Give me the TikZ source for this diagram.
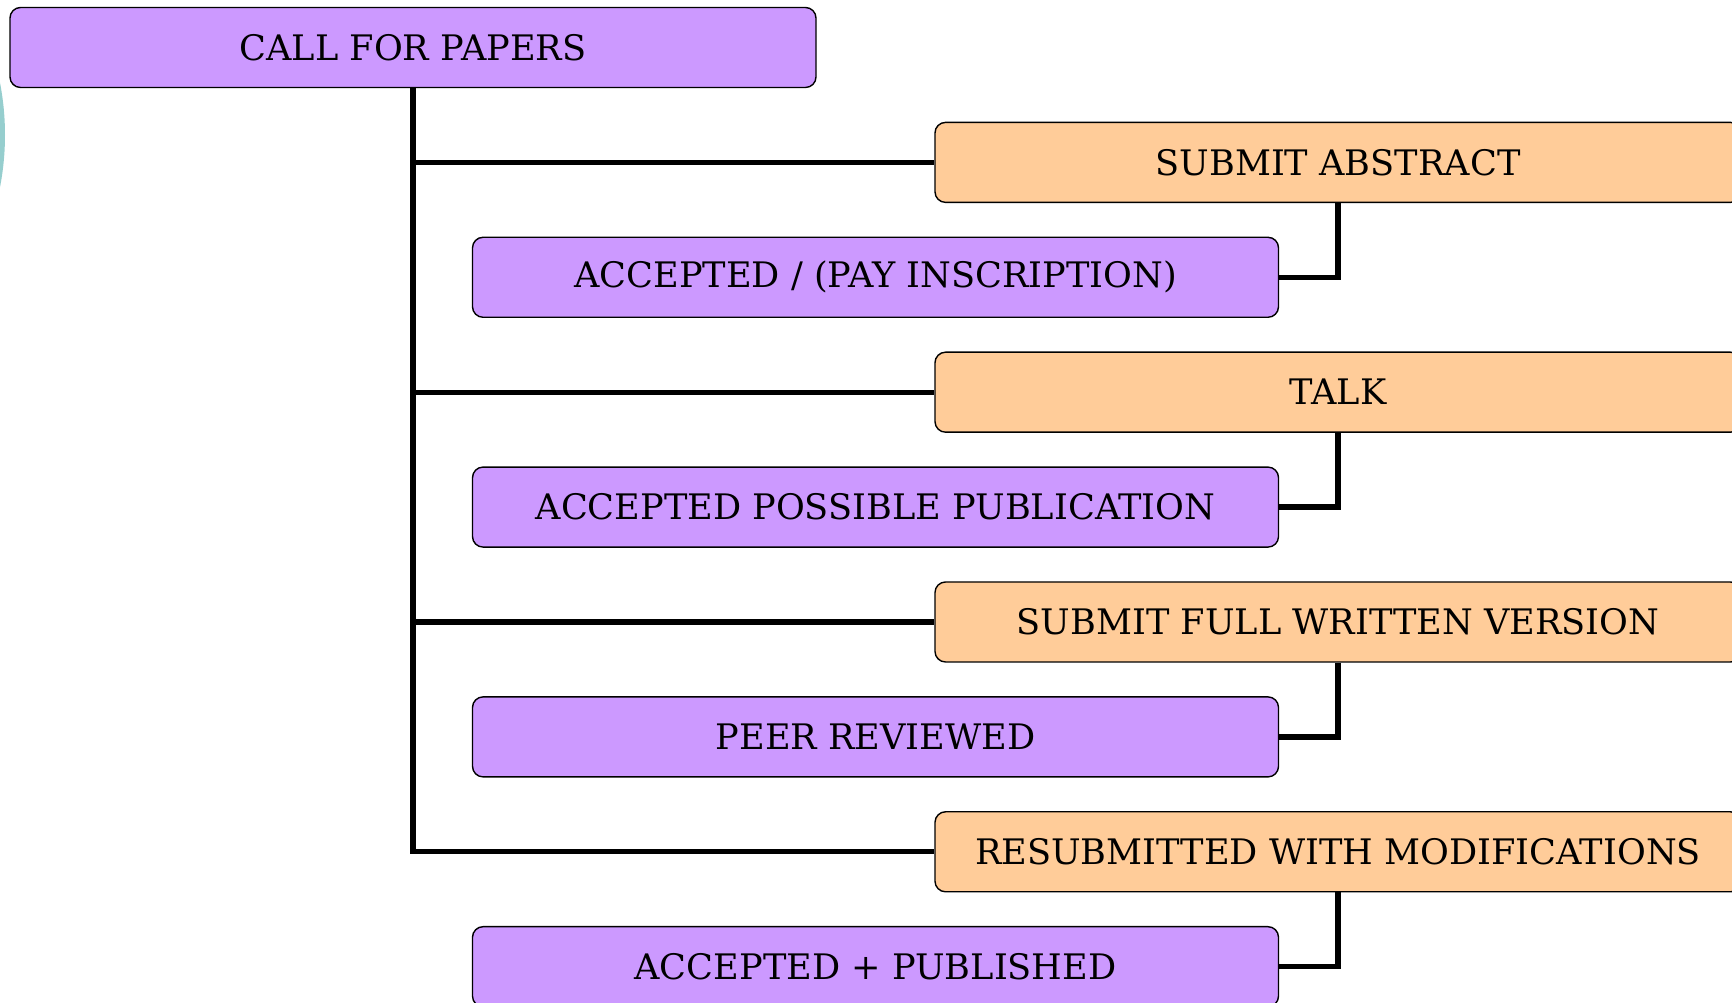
\documentclass[tikz,border=0pt]{standalone}
\usepackage{fontspec}
\setmainfont{DejaVu Serif}
\definecolor{lilac}{RGB}{204,153,255}
\definecolor{peach}{RGB}{255,204,153}
\definecolor{tealring}{RGB}{150,206,206}

\begin{document}
\begin{tikzpicture}[node distance={11.49mm}, line width=1.5pt,
    main/.style = {draw, thin, rectangle, rounded corners=3pt, minimum width=80.6mm, minimum height=8mm, font=\fontsize{10}{12}\selectfont},
    stage/.style = {main, fill=peach},
    result/.style = {main, fill=lilac}]
    \useasboundingbox (0,0) rectangle (17.32,-10.03);
    \fill[tealring] (-2.68,-1.35) circle (2.73);
    \node[main, fill=lilac] (1) at (4.13,-0.475) {CALL FOR PAPERS};
    \node[stage] (2) [below of=1, xshift=92.5mm] {SUBMIT ABSTRACT};
    \node[result] (3) [below of=2, xshift=-46.25mm] {ACCEPTED / (PAY INSCRIPTION)};
    \node[stage] (4) [below of=3, xshift=46.25mm] {TALK};
    \node[result] (5) [below of=4, xshift=-46.25mm] {ACCEPTED POSSIBLE PUBLICATION};
    \node[stage] (6) [below of=5, xshift=46.25mm] {SUBMIT FULL WRITTEN VERSION};
    \node[result] (7) [below of=6, xshift=-46.25mm] {PEER REVIEWED};
    \node[stage] (8) [below of=7, xshift=46.25mm] {RESUBMITTED WITH MODIFICATIONS};
    \node[result] (9) [below of=8, xshift=-46.25mm] {ACCEPTED + PUBLISHED};
    \draw (1.south) |- (8.west);
    \draw (1.south |- 2.west) -- (2.west);
    \draw (1.south |- 4.west) -- (4.west);
    \draw (1.south |- 6.west) -- (6.west);
    \draw (2.south) |- (3.east);
    \draw (4.south) |- (5.east);
    \draw (6.south) |- (7.east);
    \draw (8.south) |- (9.east);
\end{tikzpicture}
\end{document}
